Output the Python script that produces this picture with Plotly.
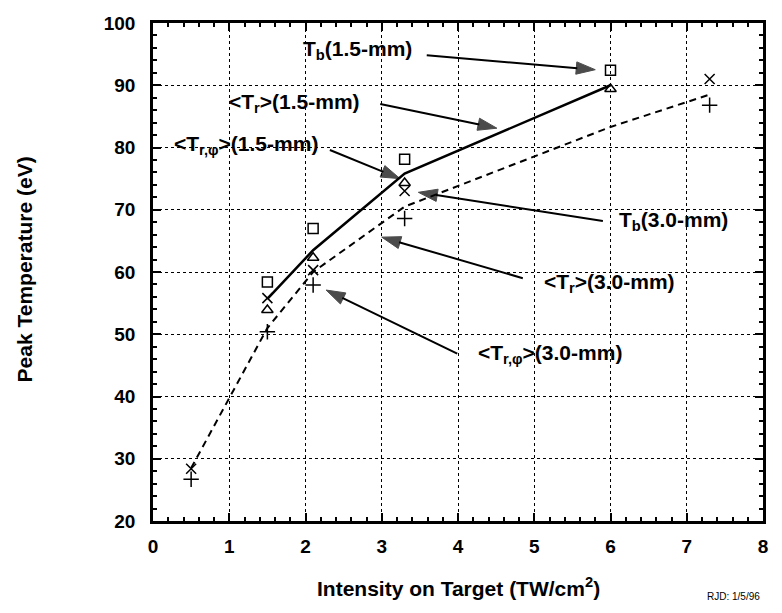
import plotly.graph_objects as go

# ---- data ----
x_15 = [1.5, 2.1, 3.3, 6.0]
tr_15 = [55.7, 63.5, 75.8, 90.0]          # <Tr>(1.5-mm) solid line
tb_15 = [58.4, 67.0, 78.1, 92.4]          # Tb(1.5-mm) squares
trphi_15 = [53.9, 62.3, 74.3, 89.4]       # <Tr,phi>(1.5-mm) triangles

x_30 = [0.5, 1.5, 2.1, 3.3, 7.3]
x_30_line = [0.5, 1.5, 2.1, 3.3, 6.0, 7.3]
tr_30 = [28.5, 51.0, 60.0, 70.5, 83.3, 88.5]   # <Tr>(3.0-mm) dashed line
tb_30 = [28.4, 55.8, 60.3, 73.0, 91.0]         # Tb(3.0-mm) x markers
trphi_30 = [26.7, 50.4, 57.9, 68.6, 86.8]      # <Tr,phi>(3.0-mm) plus markers

x_ticks = [0, 1, 2, 3, 4, 5, 6, 7, 8]
y_ticks = [20, 30, 40, 50, 60, 70, 80, 90, 100]

# labels: text, text centre (x, y)
label_text = ["T<sub>b</sub>(1.5-mm)", "&lt;T<sub>r</sub>&gt;(1.5-mm)",
              "&lt;T<sub>r,φ</sub>&gt;(1.5-mm)", "T<sub>b</sub>(3.0-mm)",
              "&lt;T<sub>r</sub>&gt;(3.0-mm)", "&lt;T<sub>r,φ</sub>&gt;(3.0-mm)"]
label_x = [2.68, 1.86, 1.22, 6.83, 5.99, 5.21]
label_y = [95.6, 87.2, 80.4, 68.2, 58.2, 46.9]
# arrows: tail (x, y) -> head (x, y)
arrow_tail_x = [3.59, 2.98, 2.32, 5.90, 4.85, 3.99]
arrow_tail_y = [94.8, 87.0, 79.6, 68.2, 59.0, 46.9]
arrow_head_x = [5.80, 4.51, 3.24, 3.48, 3.00, 2.27]
arrow_head_y = [92.5, 83.1, 75.0, 72.8, 65.6, 57.1]

FONT = "Liberation Sans"
fig = go.Figure()

fig.add_trace(go.Scatter(x=x_15, y=tr_15, mode="lines",
                         line=dict(color="black", width=2.5), showlegend=False))
fig.add_trace(go.Scatter(x=x_30_line, y=tr_30, mode="lines",
                         line=dict(color="black", width=2, dash="7px,5px"), showlegend=False))
fig.add_trace(go.Scatter(x=x_15, y=tb_15, mode="markers",
                         marker=dict(symbol="square-open", size=10, color="black", line=dict(width=1.5)),
                         showlegend=False))
fig.add_trace(go.Scatter(x=x_15, y=trphi_15, mode="markers",
                         marker=dict(symbol="triangle-up-open", size=10, color="black", line=dict(width=1.5)),
                         showlegend=False))
fig.add_trace(go.Scatter(x=x_30, y=tb_30, mode="markers",
                         marker=dict(symbol="x-thin-open", size=10, color="black", line=dict(width=1.5)),
                         showlegend=False))
fig.add_trace(go.Scatter(x=x_30, y=trphi_30, mode="markers",
                         marker=dict(symbol="cross-thin-open", size=11, color="black", line=dict(width=1.5)),
                         showlegend=False))

# arrows
for tx, ty, hx, hy in zip(arrow_tail_x, arrow_tail_y, arrow_head_x, arrow_head_y):
    fig.add_trace(go.Scatter(x=[tx, hx], y=[ty, hy], mode="lines+markers",
                             line=dict(color="black", width=2),
                             marker=dict(symbol=["circle", "arrow"], size=[0, 20],
                                         angleref="previous", color="black",
                                         line=dict(width=1, color="black")),
                             showlegend=False, hoverinfo="skip"))

annotations = []
for text, tx, ty in zip(label_text, label_x, label_y):
    annotations.append(dict(x=tx, y=ty, xref="x", yref="y", text=text, showarrow=False,
                            font=dict(family=FONT, size=21, color="black", weight="bold"),
                            xanchor="center", yanchor="middle"))

annotations.append(dict(x=-0.21, y=0.505, xref="paper", yref="paper", text="Peak Temperature (eV)",
                        textangle=-90, showarrow=False, xanchor="center", yanchor="middle",
                        font=dict(family=FONT, size=21, color="black", weight="bold")))
annotations.append(dict(x=0.5, y=-0.163, xref="paper", yref="paper",
                        text="Intensity on Target (TW/cm<sup>2</sup>)",
                        showarrow=False, xanchor="center", yanchor="bottom",
                        font=dict(family=FONT, size=21, color="black", weight="bold")))
annotations.append(dict(x=0.952, y=-0.152, xref="paper", yref="paper", text="RJD: 1/5/96",
                        showarrow=False, xanchor="center", yanchor="middle",
                        font=dict(family=FONT, size=10, color="black")))

axis_common = dict(showline=True, linecolor="black", linewidth=2.5, mirror="ticks",
                   ticks="inside", ticklen=8, tickwidth=2, tickcolor="black",
                   showgrid=True, gridcolor="black", gridwidth=1, griddash="dot",
                   zeroline=False, ticklabeloverflow="allow",
                   tickfont=dict(family=FONT, size=19, color="black", weight="bold"))

# page body has an 8px margin, so the figure is sized/offset to compensate
fig.update_layout(
    width=766, height=597,
    margin=dict(l=145, r=11, t=5, b=84),
    paper_bgcolor="white", plot_bgcolor="white",
    xaxis=dict(range=[0, 8], tickvals=x_ticks, ticktext=[str(v) for v in x_ticks],
               minor=dict(ticks="inside", ticklen=4, tickwidth=1.5, tickcolor="black",
                          dtick=0.2, tick0=0, showgrid=False),
               ticklabelstandoff=6, **axis_common),
    yaxis=dict(range=[20, 100], tickvals=y_ticks, ticktext=[str(v) for v in y_ticks],
               minor=dict(ticks="inside", ticklen=4, tickwidth=1.5, tickcolor="black",
                          dtick=2, tick0=0, showgrid=False),
               ticklabelstandoff=11, **axis_common),
    annotations=annotations,
)

fig.write_html("out.html")
